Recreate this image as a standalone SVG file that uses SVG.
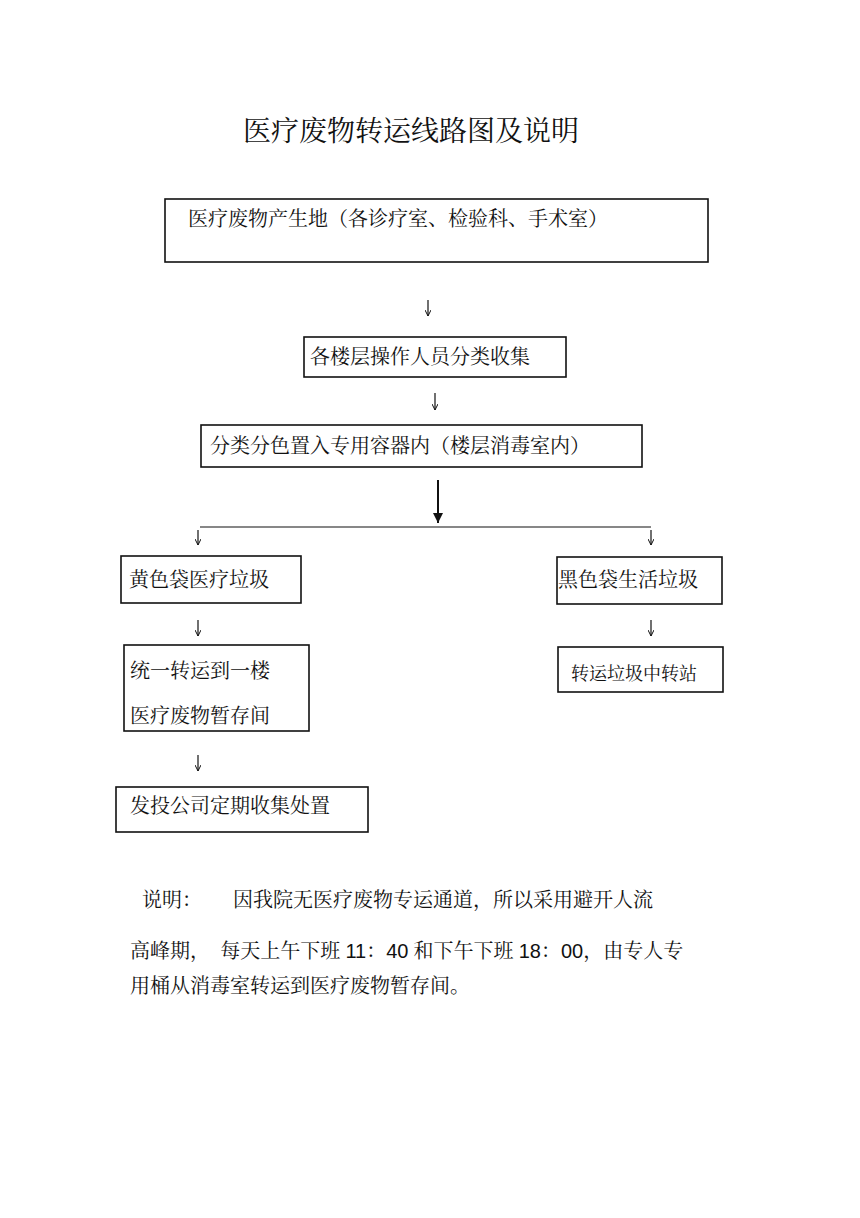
<svg xmlns="http://www.w3.org/2000/svg" width="860" height="1218" viewBox="0 0 860 1218">
<defs>
<style>
text{font-family:"Noto Serif CJK SC","Noto Sans CJK SC","Liberation Serif",serif;fill:#111;font-size:20px}
.b{fill:#fff;stroke:#111;stroke-width:1.6}
.c{stroke:#111;stroke-width:1.2;fill:none}
</style>
<marker id="a" markerWidth="8" markerHeight="6" refX="8" refY="3" orient="auto" markerUnits="userSpaceOnUse"><path d="M2,0 L8,3 L2,6" fill="none" stroke="#111" stroke-width="1"/></marker>
<marker id="A" markerWidth="10" markerHeight="10" refX="10" refY="5" orient="auto" markerUnits="userSpaceOnUse"><path d="M0,0 L10,5 L0,10 Z" fill="#111"/></marker>
</defs>
<rect width="860" height="1218" fill="#fff"/>
<text x="411" y="141" style="font-size:28px" text-anchor="middle">医疗废物转运线路图及说明</text>
<g id="n1"><rect class="b" x="165" y="199" width="543" height="63"/><text x="188" y="226">医疗废物产生地（各诊疗室、检验科、手术室）</text></g>
<g id="n2"><rect class="b" x="304" y="337" width="262" height="40"/><text x="310" y="364">各楼层操作人员分类收集</text></g>
<g id="n3"><rect class="b" x="201" y="425" width="441" height="42"/><text x="210" y="453">分类分色置入专用容器内（楼层消毒室内）</text></g>
<g id="n4"><rect class="b" x="121" y="556" width="180" height="47"/><text x="129" y="587">黄色袋医疗垃圾</text></g>
<g id="n5"><rect class="b" x="557" y="557" width="165" height="47"/><text x="558" y="587">黑色袋生活垃圾</text></g>
<g id="n6"><rect class="b" x="124" y="645" width="185" height="86"/><text x="130" y="678">统一转运到一楼</text><text x="130" y="723">医疗废物暂存间</text></g>
<g id="n7"><rect class="b" x="558" y="647" width="165" height="45"/><text x="571" y="680" style="font-size:18px">转运垃圾中转站</text></g>
<g id="n8"><rect class="b" x="116" y="787" width="252" height="45"/><text x="130" y="813">发投公司定期收集处置</text></g>
<g id="connectors">
<line class="c" x1="428" y1="300" x2="428" y2="316" marker-end="url(#a)"/>
<line class="c" x1="435" y1="393" x2="435" y2="410" marker-end="url(#a)"/>
<line x1="438" y1="480" x2="438" y2="523" stroke="#111" stroke-width="2" marker-end="url(#A)"/>
<line class="c" x1="200" y1="527" x2="651" y2="527" stroke-width="0.9"/>
<line class="c" x1="198" y1="530" x2="198" y2="545" marker-end="url(#a)"/>
<line class="c" x1="651" y1="530" x2="651" y2="545" marker-end="url(#a)"/>
<line class="c" x1="198" y1="620" x2="198" y2="636" marker-end="url(#a)"/>
<line class="c" x1="651" y1="620" x2="651" y2="636" marker-end="url(#a)"/>
<line class="c" x1="198" y1="755" x2="198" y2="771" marker-end="url(#a)"/>
</g>
<text x="142" y="907">说明：</text>
<text x="233" y="907">因我院无医疗废物专运通道，所以采用避开人流</text>
<text x="130" y="958" xml:space="preserve">高峰期，  每天上午下班 <tspan font-family="Liberation Sans,sans-serif">11</tspan>：<tspan font-family="Liberation Sans,sans-serif">40</tspan> 和下午下班 <tspan font-family="Liberation Sans,sans-serif">18</tspan>：<tspan font-family="Liberation Sans,sans-serif">00</tspan>，由专人专</text>
<text x="130" y="993">用桶从消毒室转运到医疗废物暂存间。</text>
</svg>
